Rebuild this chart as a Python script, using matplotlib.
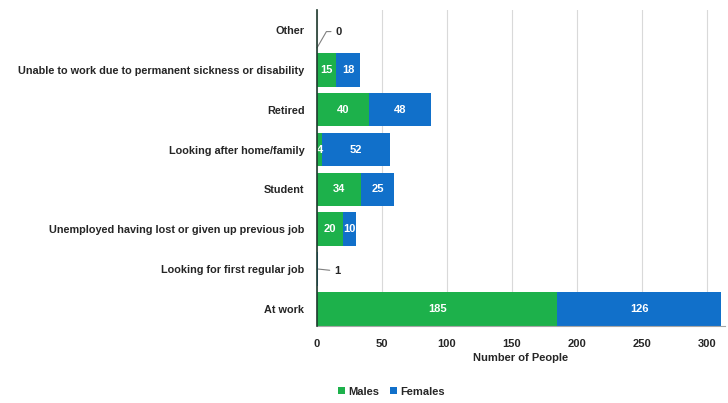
import matplotlib
matplotlib.use("Agg")
import matplotlib.pyplot as plt
import numpy as np

plt.rcParams['font.family'] = ['Liberation Sans', 'DejaVu Sans']

categories = [
    "At work",
    "Looking for first regular job",
    "Unemployed having lost or given up previous job",
    "Student",
    "Looking after home/family",
    "Retired",
    "Unable to work due to permanent sickness or disability",
    "Other",
]
males = [185, 0, 20, 34, 4, 40, 15, 0]
females = [126, 1, 10, 25, 52, 48, 18, 0]
x_ticks = [0, 50, 100, 150, 200, 250, 300]

green = "#1DB14B"
blue = "#1170CA"
text_dark = "#262626"

fig = plt.figure(figsize=(7.28, 4.03), dpi=100)
ax = fig.add_axes([0.4354, 0.191, 0.5606, 0.784])

y = np.arange(len(categories))
h = 0.84
ax.barh(y, males, height=h, color=green, label="Males", zorder=2)
ax.barh(y, females, left=males, height=h, color=blue, label="Females", zorder=2)

for i, (m, f) in enumerate(zip(males, females)):
    if m >= 3:
        ax.text(m / 2, i, str(m), ha="center", va="center", color="white",
                fontsize=8, fontweight="bold", zorder=3)
    if f >= 3:
        ax.text(m + f / 2, i, str(f), ha="center", va="center", color="white",
                fontsize=8, fontweight="bold", zorder=3)

# small values annotated outside with leader lines
ax.annotate(str(females[7]), xy=(males[7] + females[7], 6.55), xytext=(14, 6.96),
            fontsize=8, fontweight="bold", color=text_dark, va="center", ha="left",
            arrowprops=dict(arrowstyle="-", color="#808080", lw=0.8,
                            connectionstyle="angle,angleA=0,angleB=60,rad=0",
                            shrinkA=1, shrinkB=0))
ax.annotate(str(females[1]), xy=(males[1] + females[1], 1.0), xytext=(13, 0.95),
            fontsize=8, fontweight="bold", color=text_dark, va="center", ha="left",
            arrowprops=dict(arrowstyle="-", color="#808080", lw=0.8,
                            shrinkA=1, shrinkB=0))

ax.set_yticks(y)
ax.set_yticklabels(categories, fontsize=7.8, fontweight="bold", color=text_dark)
ax.set_xticks(x_ticks)
ax.set_xticklabels([str(t) for t in x_ticks], fontsize=8, fontweight="bold", color=text_dark)
ax.set_xlim(0, 314)
ax.set_ylim(-0.43, 7.5)
ax.tick_params(axis="both", length=0, pad=9)
ax.tick_params(axis="x", pad=9)

ax.grid(axis="x", color="#D9D9D9", lw=0.8, zorder=0)
ax.set_axisbelow(True)
for s in ["top", "right"]:
    ax.spines[s].set_visible(False)
ax.spines["left"].set_color("#1F3A2E")
ax.spines["left"].set_linewidth(1.2)
ax.spines["left"].set_zorder(4)
ax.spines["bottom"].set_color("#A6A6A6")
ax.spines["bottom"].set_linewidth(0.8)

ax.set_xlabel("Number of People", fontsize=8, fontweight="bold", color=text_dark, labelpad=3)

leg = fig.legend(loc="center", bbox_to_anchor=(0.538, 0.028), ncol=2, frameon=False,
                 fontsize=8, handlelength=0.6, handleheight=0.6, handletextpad=0.3,
                 columnspacing=1.0)
for t in leg.get_texts():
    t.set_fontweight("bold")
    t.set_color(text_dark)

fig.savefig("out.png", dpi=100)
